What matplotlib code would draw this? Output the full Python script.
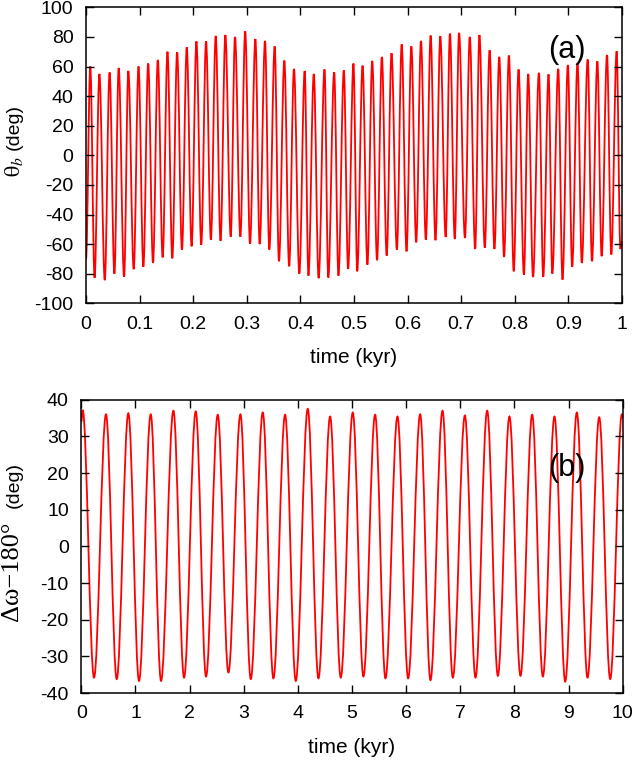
import numpy as np
import matplotlib
matplotlib.use("Agg")
import matplotlib.pyplot as plt
from matplotlib.path import Path
from matplotlib.patches import PathPatch

plt.rcParams['font.family'] = ['Liberation Sans', 'DejaVu Sans']
plt.rcParams['mathtext.fontset'] = 'stix'
plt.rcParams['axes.unicode_minus'] = False

peak_t_a = [0.008, 0.025, 0.044, 0.061, 0.079, 0.098, 0.116, 0.134, 0.152, 0.170,
            0.188, 0.206, 0.224, 0.242, 0.260, 0.278, 0.297, 0.316, 0.334, 0.352,
            0.370, 0.388, 0.408, 0.425, 0.445, 0.463, 0.481, 0.499,
            0.516, 0.534, 0.552, 0.570, 0.589, 0.607, 0.625, 0.643, 0.661, 0.679,
            0.696, 0.716, 0.734, 0.753, 0.771, 0.789, 0.807, 0.825, 0.845, 0.863,
            0.881, 0.899, 0.917, 0.936, 0.954, 0.972, 0.990]
peak_v_a = [60, 55, 56, 59, 57, 60, 62, 64.5, 70, 69.6,
            73, 77, 77, 80.7, 81.3, 80, 83.8, 78.6, 77.3, 73.6,
            64, 58.4, 57, 55, 58, 56, 57.4, 62,
            60.6, 63.8, 66.5, 69, 75, 73.6, 77.3, 80.9, 80.4, 82.2,
            82.7, 80, 81.3, 71, 66.5, 67.4, 58, 55, 55.7, 54.7,
            58.4, 61, 62.4, 64.7, 63.5, 67.8, 70.3]
trough_t_a = [0.016, 0.035, 0.053, 0.071, 0.089, 0.107, 0.125, 0.143, 0.161, 0.179,
              0.197, 0.215, 0.233, 0.251, 0.270, 0.288, 0.306, 0.324, 0.342, 0.360,
              0.379, 0.398, 0.415, 0.434, 0.452, 0.471, 0.489,
              0.506, 0.525, 0.543, 0.561, 0.580, 0.598, 0.616, 0.634, 0.652, 0.671,
              0.688, 0.707, 0.726, 0.744, 0.762, 0.780, 0.798, 0.817, 0.834, 0.853,
              0.870, 0.889, 0.907, 0.925, 0.944, 0.962, 0.980, 0.997]
trough_v_a = [-82.8, -84.4, -80, -82, -77, -75.4, -72.7, -69, -69.6, -63.7,
              -61.5, -60.5, -57, -57.8, -55, -55, -59.7, -60, -63.7, -71.6,
              -75, -80, -81.3, -83, -82.6, -81.3, -76.8,
              -78.4, -73.9, -70.9, -67.8, -63.7, -64.9, -58.8, -57, -57.4, -55.2,
              -56.5, -55.8, -63.3, -62.4, -63.3, -68.7, -78.4, -80.6, -82.2, -82.2,
              -80, -84, -75.4, -72.7, -71.6, -68.2, -67, -63.3]
ends_t_a = [0.0, 1.0]
ends_v_a = [-70, -58]

# panel (b): delta varpi - 180
peak_t_b = [0.025, 0.456, 0.869, 1.282, 1.701, 2.114, 2.520, 2.939, 3.352, 3.764,
            4.183, 4.596, 5.014, 5.427, 5.840, 6.259, 6.672, 7.085, 7.497, 7.908,
            8.328, 8.740, 9.153, 9.566, 9.985]
peak_v_b = [37.2, 36, 36.3, 36, 37, 36.8, 35.9, 36, 36.5, 35.9,
            37.5, 35.4, 36.5, 35.9, 35.4, 36, 37, 35.7, 37, 35.4,
            35.9, 35.4, 36.5, 35.2, 36]
trough_t_b = [0.235, 0.654, 1.066, 1.473, 1.898, 2.304, 2.717, 3.130, 3.548, 3.961,
              4.380, 4.792, 5.211, 5.618, 6.037, 6.449, 6.862, 7.281, 7.694, 8.112,
              8.525, 8.938, 9.350, 9.769]
trough_v_b = [-35.8, -36.2, -36.7, -36.7, -35.8, -35.5, -34.4, -36.2, -36, -36.7,
              -36, -35.8, -35.5, -36, -36, -36.5, -35.8, -35.8, -35.3, -35.3,
              -35.5, -36.9, -35.8, -36.2]
ends_t_b = [0.0, 10.0]
ends_v_b = [34, 35]


def series(pt, pv, tt, tv, et, ev):
    t = np.array(pt + tt + et, dtype=float)
    v = np.array(pv + tv + ev, dtype=float)
    order = np.argsort(t)
    return t[order], v[order]


def wave(ax, t, v, **kw):
    # smooth half-swings between extremes: cubic beziers with flat tangents
    k = 0.364
    verts = [(t[0], v[0])]
    codes = [Path.MOVETO]
    for i in range(1, len(t)):
        dt = t[i] - t[i - 1]
        verts += [(t[i - 1] + k * dt, v[i - 1]), (t[i] - k * dt, v[i]), (t[i], v[i])]
        codes += [Path.CURVE4] * 3
    ax.add_patch(PathPatch(Path(verts, codes), fill=False, **kw))


ta, va = series(peak_t_a, peak_v_a, trough_t_a, trough_v_a, ends_t_a, ends_v_a)
tb, vb = series(peak_t_b, peak_v_b, trough_t_b, trough_v_b, ends_t_b, ends_v_b)

W, H = 637, 761
fig = plt.figure(figsize=(W / 100, H / 100), dpi=100)
ax1 = fig.add_axes([86 / W, 1 - 303.3 / H, (622 - 86) / W, (303.3 - 7.3) / H])
ax2 = fig.add_axes([81.3 / W, 1 - 693 / H, (622.7 - 81.3) / W, (693 - 399.7) / H])

red = '#ff0000'
wave(ax1, ta, va, edgecolor=red, lw=1.3)
wave(ax2, tb, vb, edgecolor=red, lw=1.3)

ax1.set_xlim(0, 1)
ax1.set_ylim(-100, 100)
ax1.set_xticks(np.arange(0, 1.01, 0.1))
ax1.set_xticklabels(['0', '0.1', '0.2', '0.3', '0.4', '0.5', '0.6', '0.7', '0.8', '0.9', '1'])
ax1.set_yticks(np.arange(-100, 101, 20))

ax2.set_xlim(0, 10)
ax2.set_ylim(-40, 40)
ax2.set_xticks(np.arange(0, 11, 1))
ax2.set_yticks(np.arange(-40, 41, 10))

for ax in (ax1, ax2):
    ax.tick_params(direction='in', top=True, right=True, length=6, width=1,
                   labelsize=14)
    ax.tick_params(axis='x', pad=9)
    ax.tick_params(axis='y', pad=9)
    for s in ax.spines.values():
        s.set_linewidth(1.1)
    ax.set_xlabel('time (kyr)', fontsize=15, labelpad=11)

fig.text(14 / W, 1 - 127 / H, '(deg)', rotation=90, ha='center', va='center', fontsize=14)
fig.text(14 / W, 1 - 167 / H, r'$\mathrm{\theta}_b$', rotation=90, ha='center',
         va='center', fontsize=16)
fig.text(14 / W, 1 - 485 / H, '(deg)', rotation=90, ha='center', va='center', fontsize=14)
fig.text(12 / W, 1 - 571 / H, 'Δω−180°', rotation=90, ha='center', va='center',
         fontsize=19, family=['Liberation Serif', 'DejaVu Serif'])

ax1.text(0.898, 71, '(a)', fontsize=22, ha='center', va='center')
ax2.text(8.97, 21.5, '(b)', fontsize=22, ha='center', va='center')

fig.savefig('out.png', dpi=100)
